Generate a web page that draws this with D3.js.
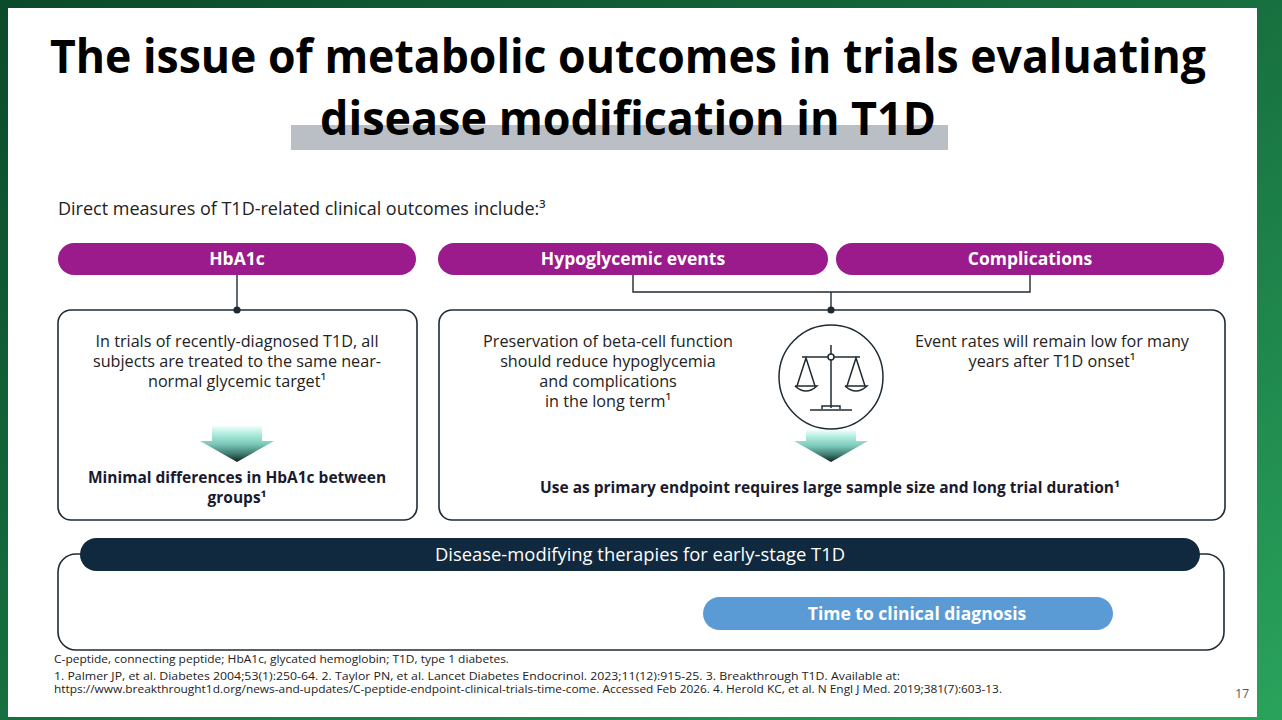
<!DOCTYPE html>
<html>
<head>
<meta charset="utf-8">
<script src="https://cdn.jsdelivr.net/npm/d3@7"></script>
<style>
    body { margin: 0; overflow: hidden; background: #0b4a2b; }
    svg { display: block; }
    text { font-family: "Open Sans", "Noto Sans", sans-serif; }
</style>
</head>
<body>
<svg id="slide" width="1282" height="720"></svg>
<script>
// slide content
var titleLines = ["The issue of metabolic outcomes in trials evaluating", "disease modification in T1D"];
var introText = "Direct measures of T1D-related clinical outcomes include:\u00b3";
var outcomes = ["HbA1c", "Hypoglycemic events", "Complications"];
var hba1cText = ["In trials of recently-diagnosed T1D, all", "subjects are treated to the same near-", "normal glycemic target\u00b9"];
var hba1cResult = ["Minimal differences in HbA1c between", "groups\u00b9"];
var betaCellText = ["Preservation of beta-cell function", "should reduce hypoglycemia", "and complications", "in the long term\u00b9"];
var eventRateText = ["Event rates will remain low for many", "years after T1D onset\u00b9"];
var endpointText = ["Use as primary endpoint requires large sample size and long trial duration\u00b9"];
var therapyLabel = "Disease-modifying therapies for early-stage T1D";
var therapyOutcome = "Time to clinical diagnosis";
var footnotes = [
    "C-peptide, connecting peptide; HbA1c, glycated hemoglobin; T1D, type 1 diabetes.",
    "1. Palmer JP, et al. Diabetes 2004;53(1):250-64. 2. Taylor PN, et al. Lancet Diabetes Endocrinol. 2023;11(12):915-25. 3. Breakthrough T1D. Available at:",
    "https://www.breakthrought1d.org/news-and-updates/C-peptide-endpoint-clinical-trials-time-come. Accessed Feb 2026. 4. Herold KC, et al. N Engl J Med. 2019;381(7):603-13."
];
var pageNumber = "17";

var svg = d3.select("#slide");
var defs = svg.append("defs");

var bg = defs.append("linearGradient").attr("id", "bg")
    .attr("x1", 0).attr("y1", 0).attr("x2", 1).attr("y2", 1);
bg.append("stop").attr("offset", 0).attr("stop-color", "#0b4a2a");
bg.append("stop").attr("offset", 0.5).attr("stop-color", "#17703f");
bg.append("stop").attr("offset", 1).attr("stop-color", "#29a35c");

var arrowGrad = defs.append("linearGradient").attr("id", "arrowGrad")
    .attr("x1", 0).attr("y1", 0).attr("x2", 0).attr("y2", 1);
arrowGrad.append("stop").attr("offset", 0).attr("stop-color", "#f2fdfb");
arrowGrad.append("stop").attr("offset", 0.2).attr("stop-color", "#b4eee2");
arrowGrad.append("stop").attr("offset", 0.5).attr("stop-color", "#7cc9b9");
arrowGrad.append("stop").attr("offset", 0.78).attr("stop-color", "#3d7a6f");
arrowGrad.append("stop").attr("offset", 1).attr("stop-color", "#121f1d");

var INK = "#1f2b34";
var MAGENTA = "#9c1b8c";

svg.append("rect").attr("width", 1282).attr("height", 720).attr("fill", "url(#bg)");
svg.append("rect").attr("x", 8).attr("y", 8).attr("width", 1249).attr("height", 709).attr("fill", "#ffffff");

// helper for multi-line centred text
function lines(data, cx, y0, lh, size, weight, color) {
    var y = d3.scaleLinear().domain([0, 1]).range([y0, y0 + lh]);
    return svg.append("g").selectAll("text").data(data).enter().append("text")
        .attr("x", cx).attr("y", function (d, i) { return y(i); })
        .attr("text-anchor", "middle")
        .attr("font-size", size).attr("font-weight", weight)
        .attr("fill", color)
        .text(function (d) { return d; });
}

// title
svg.append("rect").attr("x", 291).attr("y", 125).attr("width", 657).attr("height", 25).attr("fill", "#b9bfc5");
var title = lines(titleLines, 628, 73, 62, 46, 700, "#000000");
title.attr("lengthAdjust", "spacingAndGlyphs")
    .attr("textLength", function (d, i) { return [1156, 616][i]; });

svg.append("text").attr("x", 58).attr("y", 215)
    .attr("font-size", 18).attr("fill", "#222")
    .text(introText);

// outcome pills
var pillX = [58, 438, 836];
var pillW = [358, 390, 388];
var pills = svg.append("g").selectAll("g").data(outcomes).enter().append("g");
pills.append("rect")
    .attr("x", function (d, i) { return pillX[i]; })
    .attr("y", 243).attr("height", 32)
    .attr("width", function (d, i) { return pillW[i]; })
    .attr("rx", 16).attr("fill", MAGENTA);
pills.append("text")
    .attr("x", function (d, i) { return pillX[i] + pillW[i] / 2; })
    .attr("y", 265).attr("text-anchor", "middle")
    .attr("font-size", 17.5).attr("font-weight", 700).attr("fill", "#fff")
    .text(function (d) { return d; });

// connectors
var conn = svg.append("g").attr("fill", "none").attr("stroke", INK).attr("stroke-width", 1.4);
conn.append("path").attr("d", d3.line()([[237, 275], [237, 310]]));
conn.append("path").attr("d", d3.line()([[633, 275], [633, 292], [1030, 292], [1030, 275]]));
conn.append("path").attr("d", d3.line()([[831, 292], [831, 310]]));

// boxes
var boxes = [[58, 310, 359, 210], [439, 310, 786, 210]];
svg.append("g").selectAll("rect").data(boxes).enter().append("rect")
    .attr("x", function (d) { return d[0]; }).attr("y", function (d) { return d[1]; })
    .attr("width", function (d) { return d[2]; }).attr("height", function (d) { return d[3]; })
    .attr("rx", 13).attr("fill", "#fff").attr("stroke", INK).attr("stroke-width", 1.6);

svg.append("g").selectAll("circle").data([237, 831]).enter().append("circle")
    .attr("cx", function (d) { return d; }).attr("cy", 310).attr("r", 3.6).attr("fill", INK);

// box texts
lines(hba1cText, 237, 347, 20, 16.2, 400, "#222");
lines(hba1cResult, 237, 483, 20, 15.5, 700, "#1a1a2e");
lines(betaCellText, 608, 347, 20, 16.2, 400, "#222");
lines(eventRateText, 1052, 347, 20, 16.2, 400, "#222");
lines(endpointText, 830, 493, 20, 15.5, 700, "#1a1a2e");

// down arrows
function arrow(cx, top, stemH, triH) {
    var p = d3.path();
    p.moveTo(cx - 25, top);
    p.lineTo(cx + 25, top);
    p.lineTo(cx + 25, top + stemH);
    p.lineTo(cx + 37, top + stemH);
    p.lineTo(cx, top + stemH + triH);
    p.lineTo(cx - 37, top + stemH);
    p.lineTo(cx - 25, top + stemH);
    p.closePath();
    svg.append("path").attr("d", p.toString()).attr("fill", "url(#arrowGrad)");
}
arrow(237, 426, 15, 21);
arrow(831, 430, 11, 21);

// scale icon
var icon = svg.append("g").attr("fill", "none").attr("stroke", INK).attr("stroke-width", 1.5);
icon.append("circle").attr("cx", 831).attr("cy", 377).attr("r", 52).attr("fill", "#fff");
icon.append("path").attr("d", d3.line()([[831, 345], [831, 408]]));
icon.append("path").attr("d", d3.line()([[802, 357], [860, 357]]));
icon.append("circle").attr("cx", 831).attr("cy", 357).attr("r", 3).attr("fill", "#fff");
[806, 856].forEach(function (px) {
    icon.append("path").attr("d", d3.line()([[px - 9, 386], [px, 358], [px + 9, 386]]));
    icon.append("path").attr("d", "M" + (px - 11) + ",386 L" + (px + 11) + ",386 Q" + px + ",396 " + (px - 11) + ",386");
});
icon.append("path").attr("d", d3.line()([[822, 409], [822, 406], [840, 406], [840, 409]]));
icon.append("path").attr("d", d3.line()([[810, 410], [852, 410]]));

// bottom panel
svg.append("rect").attr("x", 58).attr("y", 554).attr("width", 1166).attr("height", 96)
    .attr("rx", 18).attr("fill", "#fff").attr("stroke", INK).attr("stroke-width", 1.6);
svg.append("rect").attr("x", 80).attr("y", 538).attr("width", 1120).attr("height", 33)
    .attr("rx", 16.5).attr("fill", "#10293e");
svg.append("text").attr("x", 640).attr("y", 561).attr("text-anchor", "middle")
    .attr("font-size", 18.4).attr("fill", "#fff").text(therapyLabel);
svg.append("rect").attr("x", 703).attr("y", 597).attr("width", 410).attr("height", 33)
    .attr("rx", 16.5).attr("fill", "#5b9bd5");
svg.append("text").attr("x", 917).attr("y", 620).attr("text-anchor", "middle")
    .attr("font-size", 17.5).attr("font-weight", 700).attr("fill", "#fff").text(therapyOutcome);

// footnotes
var fy = d3.scaleOrdinal().domain([0, 1, 2]).range([663, 680, 693]);
svg.append("g").selectAll("text").data(footnotes).enter().append("text")
    .attr("x", 54).attr("y", function (d, i) { return fy(i); })
    .attr("font-size", 11.5).attr("fill", "#222")
    .attr("lengthAdjust", "spacingAndGlyphs")
    .attr("textLength", function (d, i) { return [455, 846, 948][i]; })
    .text(function (d) { return d; });
svg.append("text").attr("x", 1249).attr("y", 698).attr("text-anchor", "end")
    .attr("font-size", 12).attr("fill", "#555").text(pageNumber);
</script>
</body>
</html>
